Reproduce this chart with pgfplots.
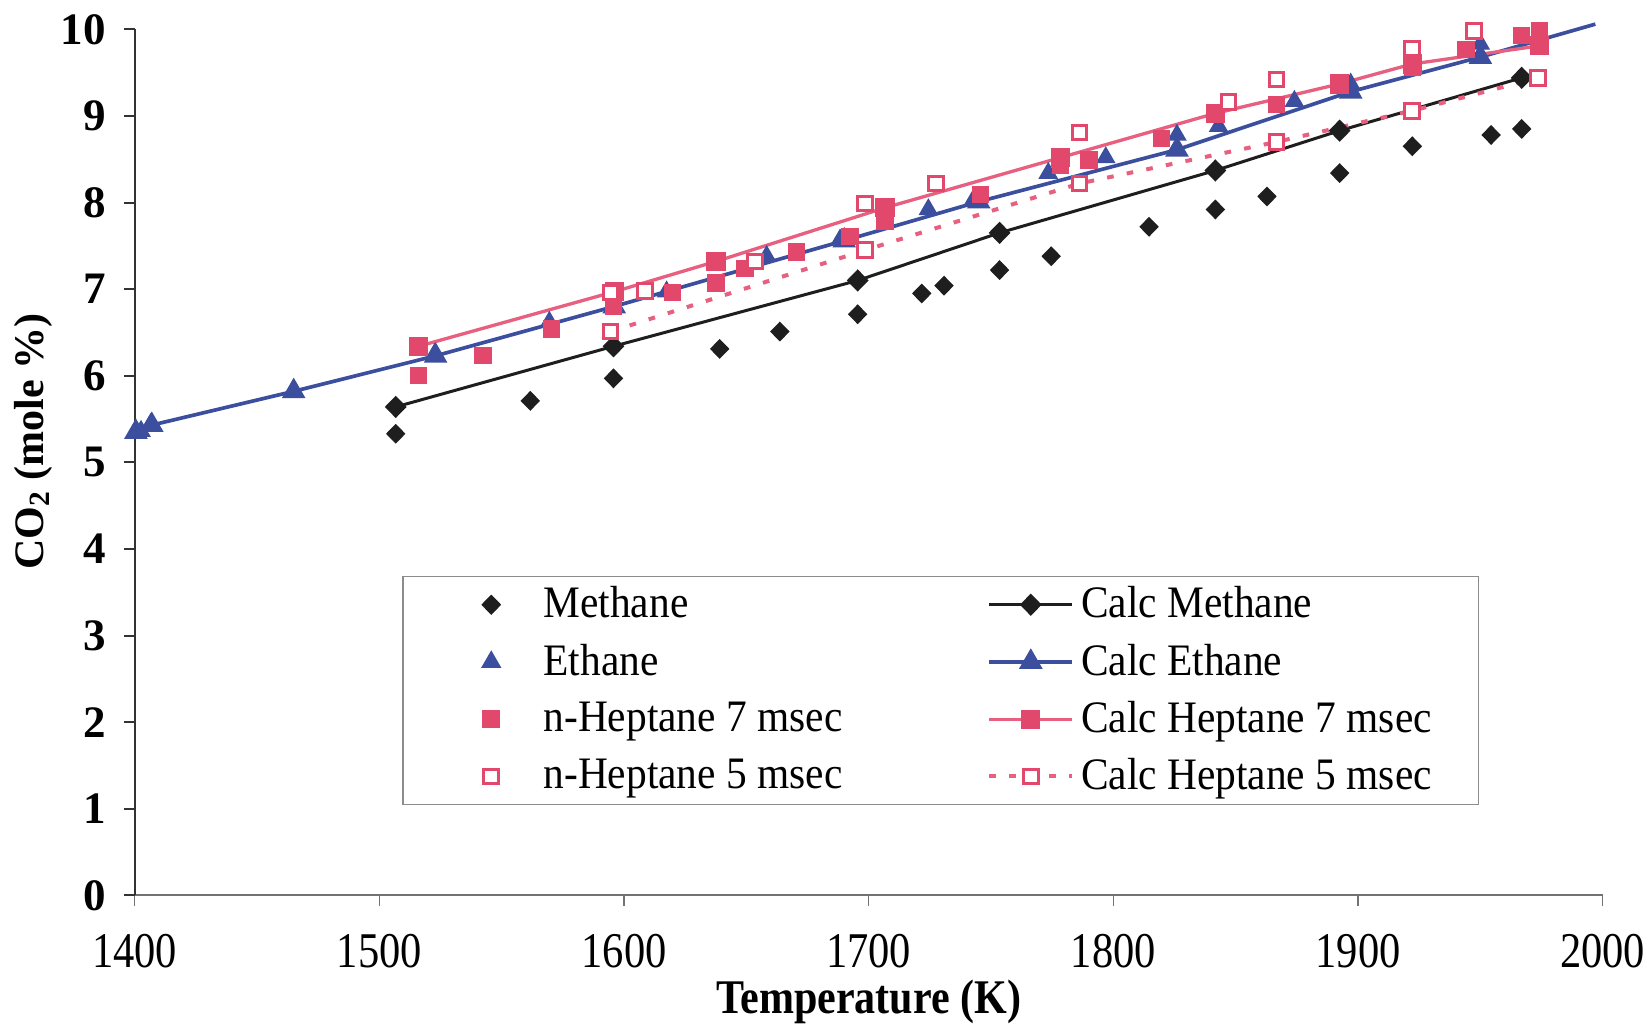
\documentclass[border=0pt]{standalone}
\usepackage{fontspec}
\setmainfont{Liberation Serif}
\newfontfamily\legfont[FakeStretch=0.92]{Liberation Serif}
\newfontfamily\xtickfont[FakeStretch=0.85]{Liberation Serif}
\newfontfamily\xlabfont[FakeStretch=0.87]{Liberation Serif}
\usepackage{pgfplots}
\pgfplotsset{compat=1.18}
\definecolor{methblack}{RGB}{30,30,30}
\definecolor{ethblue}{RGB}{60,78,158}
\definecolor{hepred}{RGB}{226,72,108}
\definecolor{heplight}{RGB}{232,96,128}

\pgfplotsset{
  markonly/.style={only marks,
    legend image code/.code={\path[draw=none,fill=none] (0pt,0pt) -- (28.2pt,0pt); \draw[##1, mark indices={1}] plot coordinates {(14.5pt,0pt)};}},
  calcline/.style={
    legend image code/.code={\draw[##1, mark indices={2}] plot coordinates {(0pt,0pt) (12.5pt,0pt) (25pt,0pt)};}},
}

\begin{document}
\begin{tikzpicture}
\path[use as bounding box] (0,0) rectangle (495pt,308.1pt);
\begin{axis}[
  at={(40.4pt,39.5pt)}, anchor=south west,
  scale only axis, width=440.4pt, height=259.8pt,
  xmin=1400, xmax=2000, ymin=0, ymax=10,
  xtick={1400,1500,...,2000}, ytick={0,1,...,10},
  axis lines=left, axis line style={-},
  x axis line style={black!55, line width=0.6pt},
  y axis line style={black!80, line width=0.7pt},
  tick align=outside, major tick length=3.2pt,
  x tick style={black!55, line width=0.4pt},
  y tick style={black!80, line width=0.6pt},
  clip=false,
  /pgf/number format/assume math mode=true,
  /pgf/number format/1000 sep={},
  xticklabel style={font=\fontsize{15}{17}\xtickfont, yshift=-5pt},
  yticklabel style={font=\fontsize{13.5}{16}\selectfont\bfseries, xshift=-2pt},
  xlabel={Temperature (K)},
  xlabel style={font=\fontsize{14.5}{17}\xlabfont\bfseries, at={(axis description cs:0.5,-0.123)}, anchor=center},
  ylabel={CO\textsubscript{2} (mole \%)},
  ylabel style={font=\fontsize{12.6}{16}\selectfont\bfseries, at={(axis description cs:-0.0688,0.524)}, anchor=center},
  legend columns=2, legend cell align=left,
  legend style={at={(axis cs:1509.3,3.69)}, anchor=north west, draw=black!45, line width=0.5pt,
    fill=white, font=\fontsize{13.5}{16}\legfont, inner xsep=12pt, inner ysep=1pt,
    row sep=2.3pt, /tikz/column 2/.style={column sep=41.4pt}},
]

% Methane experimental
\addplot[markonly, mark=diamond*, mark size=2.7pt, mark options={xscale=1.3, fill=methblack, draw=methblack}] coordinates {
(1506.7,5.33) (1561.7,5.71) (1595.7,5.97) (1639.1,6.31) (1663.7,6.51) (1695.5,6.71)
(1721.7,6.95) (1730.8,7.04) (1753.5,7.22) (1774.6,7.38) (1814.6,7.72) (1841.7,7.92)
(1862.8,8.07) (1892.5,8.34) (1922.2,8.65) (1954.4,8.78) (1966.9,8.85)};
\addlegendentry{Methane}

% Calc Methane
\addplot[calcline, methblack, line width=0.9pt, mark=diamond*, mark size=2.7pt, mark options={xscale=1.3, fill=methblack, draw=methblack, solid}] coordinates {
(1506.7,5.64) (1595.7,6.34) (1695.5,7.10) (1753.5,7.65) (1841.7,8.37) (1892.5,8.83) (1966.9,9.44)};
\addlegendentry{Calc Methane}

% Ethane experimental
\addplot[markonly, mark=triangle*, mark size=3pt, mark options={fill=ethblue, draw=ethblue}] coordinates {
(1402.6,5.36) (1406.5,5.44) (1465,5.82) (1522.6,6.25) (1569.5,6.62) (1595.7,6.82)
(1617.4,6.97) (1658.3,7.38) (1688.3,7.57) (1724.4,7.92) (1742.8,8.03) (1773.4,8.34)
(1796.9,8.52) (1826,8.78) (1826,8.62) (1843,8.88) (1874,9.17) (1897,9.30) (1897,9.37)
(1950,9.67) (1950,9.83)};
\addlegendentry{Ethane}

% Calc Ethane
\addplot[calcline, ethblue, line width=1.1pt, mark=triangle*, mark size=3pt, mark indices={1,...,10}, mark options={fill=ethblue, draw=ethblue}] coordinates {
(1400.5,5.35) (1407,5.43) (1465,5.82) (1523,6.23) (1596,6.80) (1690,7.56) (1745,8.01)
(1826,8.61) (1897,9.28) (1950,9.68) (1997,10.06)};
\addlegendentry{Calc Ethane}

% n-Heptane 7 msec experimental
\addplot[markonly, mark=square*, mark size=2.4pt, mark options={fill=hepred, draw=hepred}] coordinates {
(1516,6.00) (1542.4,6.23) (1570.3,6.54) (1595.7,6.80) (1619.9,6.96) (1637.6,7.07)
(1649.5,7.24) (1670.5,7.43) (1692.4,7.61) (1706.7,7.78) (1745.8,8.09) (1778.5,8.43)
(1790,8.49) (1819.8,8.74) (1866.7,9.13) (1922.2,9.56) (1944.1,9.77) (1966.9,9.93) (1974.2,9.98)};
\addlegendentry{n-Heptane 7 msec}

% Calc Heptane 7 msec
\addplot[calcline, heplight, line width=1pt, mark=square*, mark size=2.4pt, mark options={fill=hepred, draw=hepred}] coordinates {
(1516,6.34) (1596,6.97) (1637.6,7.32) (1706.7,7.94) (1778.5,8.52) (1841.7,9.03)
(1892.5,9.37) (1922.2,9.60) (1974.2,9.81)};
\addlegendentry{Calc Heptane 7 msec}

% n-Heptane 5 msec experimental
\addplot[markonly, mark=square*, mark size=2.2pt, mark options={fill=white, draw=hepred, line width=0.9pt}] coordinates {
(1594.5,6.96) (1608.6,6.98) (1653.5,7.32) (1698.5,7.99) (1727.5,8.22) (1786.2,8.81)
(1847,9.16) (1866.7,9.42) (1922.2,9.78) (1947.5,9.98)};
\addlegendentry{n-Heptane 5 msec}

% Calc Heptane 5 msec
\addplot[calcline, heplight, line width=1.2pt, dash pattern=on 2pt off 4pt, mark=square*, mark size=2.2pt, mark options={solid, fill=white, draw=hepred, line width=0.9pt}] coordinates {
(1594.5,6.51) (1698.5,7.45) (1786.2,8.22) (1866.7,8.70) (1922.2,9.06) (1973.5,9.44)};
\addlegendentry{Calc Heptane 5 msec}

\end{axis}
\end{tikzpicture}
\end{document}
